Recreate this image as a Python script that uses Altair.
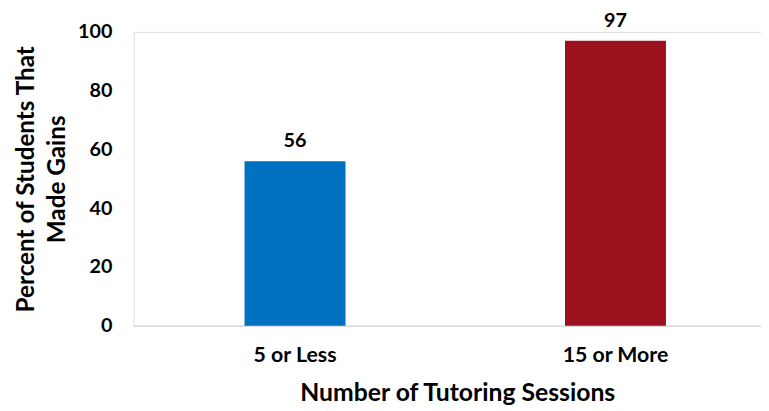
import altair as alt
import pandas as pd

categories = ["5 or Less", "15 or More"]
values = [56, 97]
colors = ["#0070C0", "#9C111E"]
y_ticks = [0, 20, 40, 60, 80, 100]

df = pd.DataFrame({"cat": categories, "val": values, "color": colors})

FONT = "Lato"

x_enc = alt.X(
    "cat:N",
    sort=categories,
    scale=alt.Scale(range=[0, 650], paddingInner=0.685, paddingOuter=0.346),
    axis=alt.Axis(
        title="Number of Tutoring Sessions",
        labelAngle=0,
        labelFont=FONT, labelFontSize=21.5, labelFontWeight="bold", labelColor="#000000",
        labelPadding=19,
        ticks=False,
        domainColor="#D9D9D9", domainWidth=1.5,
        titleFont=FONT, titleFontSize=25, titleFontWeight="bold", titleColor="#000000",
        titlePadding=15,
        titleX=327,
    ),
)

y_enc = alt.Y(
    "val:Q",
    scale=alt.Scale(domain=[0, 100], nice=False),
    axis=alt.Axis(
        title=["Percent of Students That", "Made Gains"],
        values=y_ticks,
        grid=False, domain=False, ticks=False,
        labelFont=FONT, labelFontSize=20, labelFontWeight="bold", labelColor="#000000",
        labelPadding=22,
        titleFont=FONT, titleFontSize=24.5, titleFontWeight="bold", titleColor="#000000",
        titlePadding=8,
        titleLineHeight=31,
    ),
)

bars = alt.Chart(df).mark_bar().encode(
    x=x_enc,
    y=y_enc,
    color=alt.Color("color:N", scale=None, legend=None),
)

labels = alt.Chart(df).mark_text(
    baseline="bottom", dy=-10, font=FONT, fontSize=20, fontWeight="bold", color="#000000"
).encode(
    x=alt.X("cat:N", sort=categories),
    y=alt.Y("val:Q"),
    text=alt.Text("val:Q"),
)

chart = (
    alt.layer(bars, labels)
    .properties(
        width=634,
        height=297,
        autosize=alt.AutoSizeParams(type="none"),
        padding={"left": 127, "top": 22, "right": 0, "bottom": 84},
    )
    .configure_view(stroke=None)
    .configure(background="#ffffff")
)

chart.save("out.html", embed_options={"renderer": "svg", "actions": False})
